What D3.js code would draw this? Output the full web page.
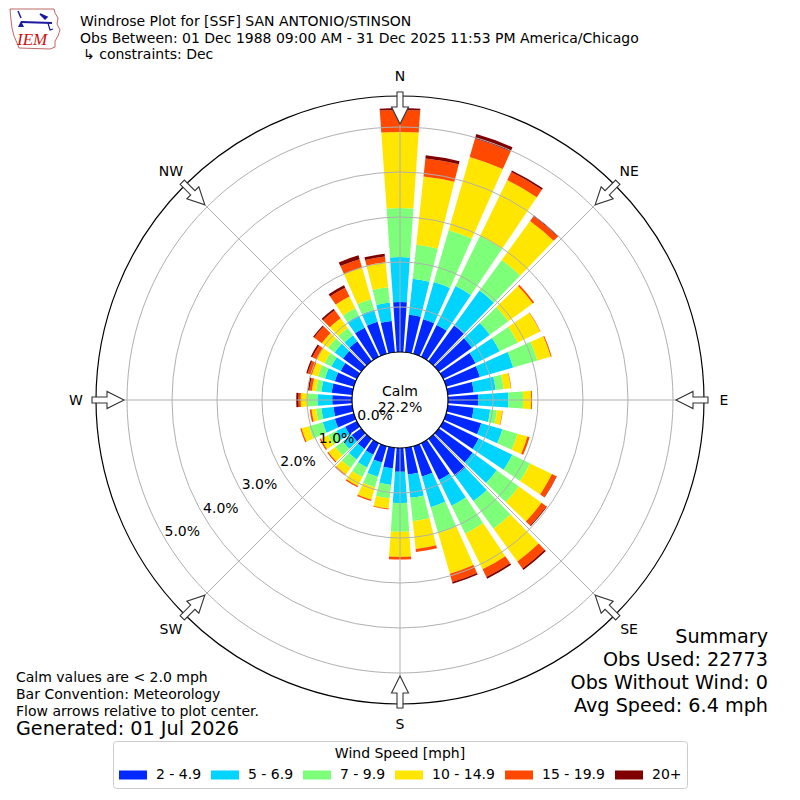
<!DOCTYPE html>
<html><head><meta charset="utf-8">
<script src="https://cdn.jsdelivr.net/npm/d3@7"></script>
<style>
body{margin:0;background:#fff}
svg{display:block}
text{font-family:"DejaVu Sans",sans-serif;fill:#000}
</style>
</head><body>
<svg id="chart" width="800" height="800"></svg>
<script>
// ---------------- DATA ----------------
const directions = [0,10,20,30,40,50,60,70,80,90,100,110,120,130,140,150,160,170,
                    180,190,200,210,220,230,240,250,260,270,280,290,300,310,320,330,340,350];
const speedBins = ["2 - 4.9","5 - 6.9","7 - 9.9","10 - 14.9","15 - 19.9","20+"];
const binColors = ["#0028ff","#00d4ff","#7dff7a","#ffe600","#ff4900","#800000"];
// percent frequency per direction, one array per speed bin
const bin2to5   = [1.11,0.84,0.80,0.79,0.98,0.91,0.80,0.78,0.58,0.67,0.58,0.81,0.88,0.93,1.02,0.91,0.70,0.60,
                   0.53,0.46,0.38,0.29,0.28,0.26,0.29,0.44,0.42,0.44,0.46,0.44,0.40,0.50,0.55,0.72,0.74,0.70];
const bin5to7   = [1.00,0.80,0.86,0.96,0.96,0.49,0.60,0.77,0.49,0.67,0.37,0.49,0.83,0.66,0.69,0.64,0.71,0.52,
                   0.69,0.37,0.33,0.31,0.29,0.24,0.22,0.28,0.27,0.33,0.23,0.23,0.23,0.23,0.16,0.30,0.28,0.41];
const bin7to10  = [1.09,0.76,1.20,1.24,0.84,0.51,0.44,0.56,0.18,0.33,0.15,0.35,0.44,0.61,0.76,0.69,0.60,0.52,
                   0.64,0.30,0.24,0.24,0.23,0.21,0.20,0.32,0.12,0.22,0.12,0.16,0.17,0.18,0.20,0.18,0.24,0.34];
const bin10to15 = [1.69,1.53,1.69,1.38,1.07,0.67,0.56,0.31,0.16,0.18,0.12,0.23,0.54,0.62,0.90,0.88,0.94,0.62,
                   0.56,0.23,0.29,0.22,0.18,0.19,0.18,0.17,0.10,0.15,0.09,0.14,0.19,0.17,0.27,0.29,0.73,0.56];
const bin15to20 = [0.49,0.40,0.43,0.20,0.13,0.04,0.01,0.02,0.01,0.02,0.01,0.05,0.11,0.13,0.19,0.19,0.19,0.07,
                   0.06,0.02,0.03,0.03,0.03,0.03,0.03,0.03,0.04,0.05,0.06,0.10,0.11,0.21,0.22,0.22,0.20,0.13];
const bin20plus = [0.04,0.07,0.10,0.04,0.02,0.00,0.00,0.00,0.00,0.00,0.00,0.00,0.01,0.02,0.04,0.04,0.04,0.00,
                   0.00,0.00,0.00,0.00,0.00,0.00,0.00,0.00,0.00,0.05,0.03,0.03,0.04,0.03,0.04,0.06,0.09,0.06];
const ringTicks = [0,1,2,3,4,5];
const ringLabels = ["0.0%","1.0%","2.0%","3.0%","4.0%","5.0%"];
const compassLabels = ["N","NE","E","SE","S","SW","W","NW"];
const compassAngles = [0,45,90,135,180,225,270,315];
const calmText = "22.2%";
const titleLines = ["Windrose Plot for [SSF] SAN ANTONIO/STINSON",
  "Obs Between: 01 Dec 1988 09:00 AM - 31 Dec 2025 11:53 PM America/Chicago"];
const constraintLine = "\u21B3 constraints: Dec";
const noteLines = ["Calm values are < 2.0 mph","Bar Convention: Meteorology","Flow arrows relative to plot center."];
const generatedLine = "Generated: 01 Jul 2026";
const summaryLines = ["Summary","Obs Used: 22773","Obs Without Wind: 0","Avg Speed: 6.4 mph"];
const legendTitle = "Wind Speed [mph]";

// ---------------- CHART ----------------
const svg = d3.select("#chart");
const cx = 400, cy = 400;
const r = d3.scaleLinear().domain([0,5]).range([48,273]);
const outerR = 304;
const toRad = d => d*Math.PI/180;
const FS = "14px", FB = "19.2px";

const bins = [bin2to5,bin5to7,bin7to10,bin10to15,bin15to20,bin20plus];
const keys = speedBins.map((s,i)=>"k"+i);
const rows = directions.map((d,i)=>{
  const o = {dir:d};
  keys.forEach((k,j)=>o[k]=bins[j][i]);
  return o;
});
const series = d3.stack().keys(keys)(rows);

const g = svg.append("g").attr("transform",`translate(${cx},${cy})`);
const arc = d3.arc();
const halfW = 4; // degrees
series.forEach((s,k)=>{
  g.append("g").selectAll("path").data(s).join("path")
    .attr("d", d=>arc({innerRadius:r(d[0]), outerRadius:r(d[1]),
      startAngle:toRad(d.data.dir-halfW), endAngle:toRad(d.data.dir+halfW)}))
    .attr("fill", binColors[k]);
});

// grid
const grid = g.append("g").attr("fill","none").attr("stroke","#b0b0b0").attr("stroke-width",1);
ringTicks.slice(1).forEach(t=>grid.append("circle").attr("r",r(t)));
compassAngles.forEach(a=>{
  grid.append("line").attr("x1",0).attr("y1",0)
    .attr("x2",outerR*Math.sin(toRad(a))).attr("y2",-outerR*Math.cos(toRad(a)));
});

// calm circle
g.append("circle").attr("r",r(0)).attr("fill","#fff").attr("stroke","#000").attr("stroke-width",1.2);
g.append("text").attr("x",0).attr("y",-4.5).attr("text-anchor","middle").style("font-size",FS).text("Calm");
g.append("text").attr("x",0).attr("y",12.3).attr("text-anchor","middle").style("font-size",FS).text(calmText);

// outer circle
g.append("circle").attr("r",outerR).attr("fill","none").attr("stroke","#000").attr("stroke-width",1.2);

// arrows
const arrowPts = [[-3,-308],[3,-308],[3,-293],[8.5,-293],[0,-276],[-8.5,-293],[-3,-293]];
compassAngles.forEach(a=>{
  g.append("polygon").attr("points",arrowPts.map(p=>p.join(",")).join(" "))
    .attr("transform",`rotate(${a})`)
    .attr("fill","#fff").attr("stroke","#333").attr("stroke-width",1.1);
});

// compass labels
compassLabels.forEach((lab,i)=>{
  const a = toRad(compassAngles[i]);
  g.append("text").attr("x",324*Math.sin(a)).attr("y",-324*Math.cos(a))
    .attr("text-anchor","middle").attr("dominant-baseline","central")
    .style("font-size",FS).text(lab);
});

// ring labels
const labAng = toRad(239);
ringTicks.forEach((t,i)=>{
  const d = r(t)-19;
  g.append("text").attr("x",d*Math.sin(labAng)).attr("y",-d*Math.cos(labAng))
    .attr("text-anchor","middle").attr("dominant-baseline","central")
    .style("font-size",FS).text(ringLabels[i]);
});

// ---------------- TEXTS ----------------
svg.append("text").attr("x",80).attr("y",26).style("font-size",FS).text(titleLines[0]);
svg.append("text").attr("x",80).attr("y",42.5).style("font-size",FS).text(titleLines[1]);
svg.append("text").attr("x",83).attr("y",59).style("font-size",FS).text(constraintLine);

noteLines.forEach((t,i)=>{
  svg.append("text").attr("x",16).attr("y",682+i*17).style("font-size",FS).text(t);
});
svg.append("text").attr("x",16).attr("y",735).style("font-size",FB).text(generatedLine);

summaryLines.forEach((t,i)=>{
  svg.append("text").attr("x",768).attr("y",642.7+i*23).attr("text-anchor","end")
    .style("font-size",FB).text(t);
});

// ---------------- LEGEND ----------------
const lg = svg.append("g");
lg.append("rect").attr("x",113.5).attr("y",741.5).attr("width",574).attr("height",47)
  .attr("rx",3).attr("fill","#fff").attr("stroke","#cccccc").attr("stroke-width",1);
lg.append("text").attr("x",400).attr("y",758.3).attr("text-anchor","middle")
  .style("font-size",FS).text(legendTitle);
const legX = [119,211,303,395,505,615];
speedBins.forEach((s,i)=>{
  lg.append("rect").attr("x",legX[i]).attr("y",770.5).attr("width",28).attr("height",9)
    .attr("fill",binColors[i]);
  lg.append("text").attr("x",legX[i]+37).attr("y",779).style("font-size",FS).text(s);
});

// ---------------- LOGO ----------------
const logo = svg.append("g");
logo.append("path")
  .attr("d","M10,9 L54,9 L55,13 L58,18 L57,24 L60,30 L58,36 L55,41 L55,47 L50,49 L19,48 L17,43 L14,36 L12,28 L11,20 Z")
  .attr("fill","none").attr("stroke","#b04040").attr("stroke-width",0.8);
logo.append("line").attr("x1",21).attr("y1",22).attr("x2",52).attr("y2",23)
  .attr("stroke","#1a1aa0").attr("stroke-width",2);
logo.append("path").attr("d","M40,14 L47,17 L45,19 Z").attr("fill","#1a1aa0").attr("stroke","#1a1aa0").attr("stroke-width",1.5);
logo.append("path").attr("d","M18,11 L21,18").attr("stroke","#1a1aa0").attr("stroke-width",1.5);
logo.append("path").attr("d","M18,27 L21,21 L24,27 Z").attr("fill","#1a1aa0");
logo.append("path").attr("d","M48,23 L50,30 L53,29").attr("fill","none").attr("stroke","#1a1aa0").attr("stroke-width",1.2);
logo.append("text").attr("x",17).attr("y",45)
  .style("font-family","'Liberation Serif',serif").style("font-style","italic")
  .style("font-size","17px").style("fill","#cc1111").text("IEM");
</script>
</body></html>
